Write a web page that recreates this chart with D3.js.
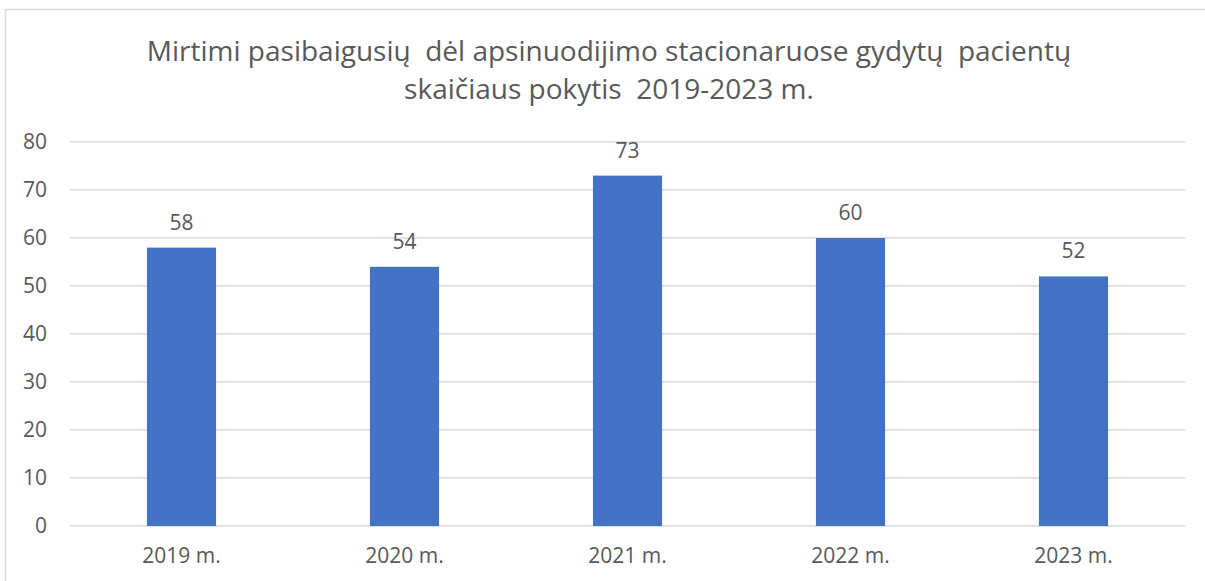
<!DOCTYPE html>
<html>
<head>
<meta charset="utf-8">
<script src="https://cdn.jsdelivr.net/npm/d3@7"></script>
<style>
  body { margin: 0; background: #fff; }
  text { font-family: "Open Sans", Arial, sans-serif; fill: #595959; }
</style>
</head>
<body>
<div id="chart"></div>
<script>
var years = ["2019 m.", "2020 m.", "2021 m.", "2022 m.", "2023 m."]
var deaths = [58, 54, 73, 60, 52]
var yTicks = [0, 10, 20, 30, 40, 50, 60, 70, 80]
var titleLines = [
  "Mirtimi pasibaigusių  dėl apsinuodijimo stacionaruose gydytų  pacientų",
  "skaičiaus pokytis  2019-2023 m."
]

var W = 1205, H = 581
var margin = {top: 142, right: 20, bottom: 55, left: 70}

var svg = d3.select("#chart").append("svg")
    .attr("width", W).attr("height", H)

// outer frame
svg.append("rect")
    .attr("x", 5.5).attr("y", 9.5)
    .attr("width", W + 10).attr("height", H + 10)
    .style("fill", "white")
    .style("stroke", "#d9d9d9").style("stroke-width", 1.5)

// title (keep the double spaces)
svg.append("g").selectAll("text").data(titleLines).enter().append("text")
    .attr("x", 609).attr("y", function(d, i) { return 61 + i * 38 })
    .attr("text-anchor", "middle")
    .attr("xml:space", "preserve")
    .style("white-space", "pre")
    .style("font-size", "28px")
    .text(function(d) { return d })

var x = d3.scaleBand().domain(years)
    .range([margin.left, 1185])
    .paddingInner(0.69).paddingOuter(0.345)

var y = d3.scaleLinear().domain([0, 80])
    .range([526, margin.top])

// gridlines
svg.append("g").selectAll("line").data(yTicks).enter().append("line")
    .attr("x1", margin.left).attr("x2", 1185)
    .attr("y1", function(d) { return y(d) }).attr("y2", function(d) { return y(d) })
    .style("stroke", "#d9d9d9").style("stroke-width", 1.3)

// y axis labels
var yAxis = svg.append("g")
    .attr("transform", "translate(" + (margin.left - 23) + ",0)")
    .call(d3.axisLeft(y).tickValues(yTicks).tickSize(0).tickPadding(0))
yAxis.select(".domain").remove()
yAxis.selectAll("text").style("font-size", "21px").attr("fill", "#595959")
    .style("font-family", "'Open Sans', Arial, sans-serif")

// bars
svg.append("g").selectAll("rect").data(deaths).enter().append("rect")
    .attr("x", function(d, i) { return x(years[i]) })
    .attr("width", x.bandwidth())
    .attr("y", function(d) { return y(d) })
    .attr("height", function(d) { return y(0) - y(d) })
    .style("fill", "#4472c4")

// value labels
svg.append("g").selectAll("text").data(deaths).enter().append("text")
    .attr("x", function(d, i) { return x(years[i]) + x.bandwidth() / 2 })
    .attr("y", function(d) { return y(d) - 18 })
    .attr("text-anchor", "middle")
    .style("font-size", "21px")
    .text(function(d) { return d })

// x axis labels
var xAxis = svg.append("g")
    .attr("transform", "translate(0," + y(0) + ")")
    .call(d3.axisBottom(x).tickSize(0).tickPadding(22))
xAxis.select(".domain").remove()
xAxis.selectAll("text").style("font-size", "21px").attr("fill", "#595959")
    .style("font-family", "'Open Sans', Arial, sans-serif")
</script>
</body>
</html>
